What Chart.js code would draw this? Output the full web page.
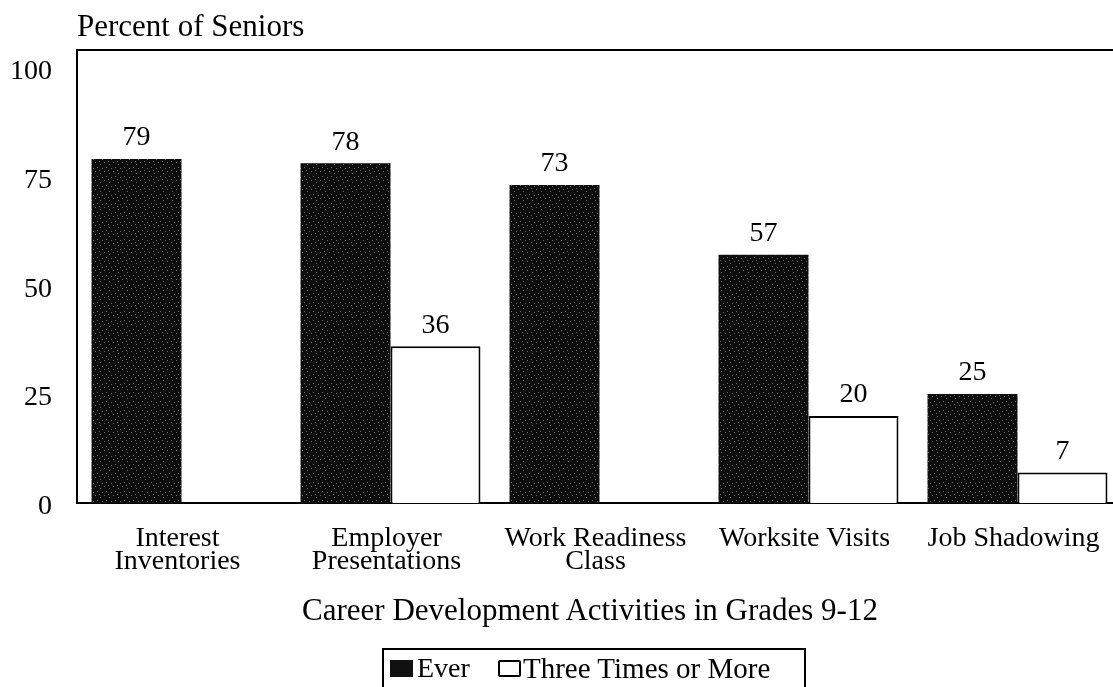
<!DOCTYPE html>
<html>
<head>
<meta charset="utf-8">
<script src="https://cdn.jsdelivr.net/npm/chart.js@4.4.1/dist/chart.umd.min.js"></script>
<style>
  html, body { margin:0; padding:0; background:#fff; }
  #wrap { position:relative; width:1113px; height:687px; overflow:hidden; background:#fff; }
  canvas { position:absolute; left:0; top:0; }
  .t { position:absolute; font-family:"Liberation Serif","Times New Roman",serif; font-size:28px; line-height:28px; color:#000; white-space:nowrap; }
  .big { font-size:31px; line-height:31px; }
  #legend { position:absolute; left:382px; top:648px; width:424px; height:50px; border:2px solid #000; box-sizing:border-box; }
  .sw { position:absolute; width:23px; height:17px; box-sizing:border-box; }
</style>
</head>
<body>
<div id="wrap">
  <canvas id="c" width="1125" height="687"></canvas>
  <div class="t big" style="left:77px; top:10px;">Percent of Seniors</div>
  <div class="t big" style="left:0; width:1180px; top:594px; text-align:center;">Career Development Activities in Grades 9-12</div>
  <div id="legend"></div>
  <div class="sw" style="left:390px; top:660px; background:#111;"></div>
  <div class="t" style="left:417px; top:654px;">Ever</div>
  <div class="sw" style="left:498px; top:660px; background:#fff; border:2px solid #000; border-radius:2px;"></div>
  <div class="t" style="left:523px; top:654px; font-size:29px;">Three Times or More</div>
</div>
<script>
const categories = [["Interest","Inventories"], ["Employer","Presentations"], ["Work Readiness","Class"], "Worksite Visits", "Job Shadowing"];
const everValues = [79, 78, 73, 57, 25];
const threePlusValues = [null, 36, null, 20, 7];
const yTicks = [0, 25, 50, 75, 100];
const seriesNames = ["Ever", "Three Times or More"];

function stipple() {
  const p = document.createElement('canvas');
  p.width = 9; p.height = 9;
  const g = p.getContext('2d');
  g.fillStyle = '#0d0d0d'; g.fillRect(0,0,9,9);
  g.fillStyle = '#6a6a6a';
  [[1,2],[5,0],[7,5],[3,6],[0,8]].forEach(([x,y]) => g.fillRect(x,y,1,1));
  return g.createPattern(p, 'repeat');
}

const valueLabels = {
  id: 'valueLabels',
  afterDatasetsDraw(chart) {
    const ctx = chart.ctx;
    ctx.save();
    ctx.font = '28px "Liberation Serif", serif';
    ctx.fillStyle = '#000';
    ctx.textAlign = 'center';
    ctx.textBaseline = 'bottom';
    chart.data.datasets.forEach((ds, i) => {
      const meta = chart.getDatasetMeta(i);
      meta.data.forEach((bar, j) => {
        const v = ds.data[j];
        if (v === null || v === undefined) return;
        ctx.fillText(String(v), bar.x, bar.y - 7);
      });
    });
    ctx.restore();
  }
};

const serif = { family: '"Liberation Serif", "Times New Roman", serif', size: 28 };

new Chart(document.getElementById('c'), {
  type: 'bar',
  data: {
    labels: categories,
    datasets: [
      { label: seriesNames[0], data: everValues, backgroundColor: stipple(), borderWidth: 0 },
      { label: seriesNames[1], data: threePlusValues, backgroundColor: '#fff', borderColor: '#000', borderWidth: 2, borderSkipped: 'start' }
    ]
  },
  options: {
    responsive: false,
    animation: false,
    events: [],
    layout: { padding: { top: 50, right: 3, left: 0, bottom: 0 } },
    datasets: { bar: { categoryPercentage: 0.861, barPercentage: 1.0 } },
    plugins: { legend: { display: false }, tooltip: { enabled: false }, title: { display: false } },
    scales: {
      x: {
        grid: { display: false },
        border: { display: true, color: '#000', width: 2 },
        ticks: { color: '#000', font: { ...serif, lineHeight: 0.82 }, padding: 16, labelOffset: -4, maxRotation: 0, minRotation: 0, autoSkip: false },
        afterFit: s => { s.height = 184; }
      },
      xTop: {
        type: 'category',
        position: 'top',
        labels: categories,
        grid: { display: false },
        border: { display: true, color: '#000', width: 2 },
        ticks: { display: false },
        afterFit: s => { s.height = 0; }
      },
      y: {
        min: 0,
        max: 104,
        grid: { display: false },
        border: { display: true, color: '#000', width: 2 },
        ticks: { color: '#000', font: serif, padding: 17, labelOffset: 4, stepSize: 25, includeBounds: false,
                 callback: v => yTicks.includes(v) ? String(v) : '' },
        afterFit: s => { s.width = 77; }
      }
    }
  },
  plugins: [valueLabels]
});
</script>
</body>
</html>
